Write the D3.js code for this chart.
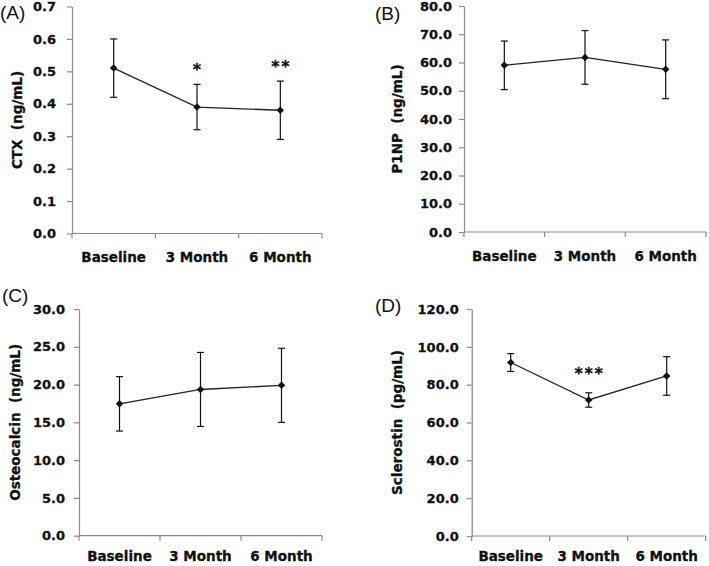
<!DOCTYPE html>
<html>
<head>
<meta charset="utf-8">
<script src="https://cdn.jsdelivr.net/npm/d3@7"></script>
<style>
  html, body { margin: 0; padding: 0; background: #fff; }
  svg { display: block; }
  text { white-space: pre; }
  .bold { stroke: #111; stroke-width: 0.3px; }
</style>
</head>
<body>
<svg id="chart" width="709" height="566"></svg>
<script>
// ---------- data ----------
const categories = ["Baseline", "3 Month", "6 Month"];

const ctxMean = [0.51, 0.39, 0.38];
const ctxErr  = [0.09, 0.07, 0.09];
const ctxStars = ["", "*", "**"];
const ctxTicks = [0.0, 0.1, 0.2, 0.3, 0.4, 0.5, 0.6, 0.7];

const p1npMean = [59.0, 61.8, 57.6];
const p1npErr  = [8.6, 9.5, 10.4];
const p1npStars = ["", "", ""];
const p1npTicks = [0, 10, 20, 30, 40, 50, 60, 70, 80];

const oscMean = [17.45, 19.35, 19.9];
const oscErr  = [3.6, 4.9, 4.9];
const oscStars = ["", "", ""];
const oscTicks = [0, 5, 10, 15, 20, 25, 30];

const sclMean = [91.7, 71.9, 84.6];
const sclErr  = [4.7, 3.8, 10.2];
const sclStars = ["", "***", ""];
const sclTicks = [0, 20, 40, 60, 80, 100, 120];

const panelLetters = ["(A)", "(B)", "(C)", "(D)"];
const yTitles = ["CTX  (ng/mL)", "P1NP  (ng/mL)", "Osteocalcin  (ng/mL)", "Sclerostin  (pg/mL)"];

// ---------- layout (per panel geometry) ----------
const panels = [
  { letter: panelLetters[0], title: yTitles[0], mean: ctxMean, err: ctxErr, stars: ctxStars, ticks: ctxTicks,
    x0: 72, x1: 322, yTop: 6.5, yBot: 233.5, labGap: 16, titleX: 17, letterX: 0, letterY: 12, starDy: -14.5, catDy: 28.5 },
  { letter: panelLetters[1], title: yTitles[1], mean: p1npMean, err: p1npErr, stars: p1npStars, ticks: p1npTicks,
    x0: 464, x1: 706, yTop: 6, yBot: 232, labGap: 12, titleX: 397, letterX: 375, letterY: 13, starDy: -15, catDy: 28.5 },
  { letter: panelLetters[2], title: yTitles[2], mean: oscMean, err: oscErr, stars: oscStars, ticks: oscTicks,
    x0: 79, x1: 322, yTop: 309, yBot: 535.7, labGap: 14, titleX: 15, letterX: 2, letterY: 295, starDy: -15, catDy: 25 },
  { letter: panelLetters[3], title: yTitles[3], mean: sclMean, err: sclErr, stars: sclStars, ticks: sclTicks,
    x0: 471.7, x1: 705.7, yTop: 309, yBot: 536, labGap: 13, titleX: 397, letterX: 375, letterY: 305, starDy: -19.5, catDy: 25 }
];

const svg = d3.select("#chart");
const BOLD = "'DejaVu Sans', Verdana, sans-serif";
const axisColor = "#8a8a8a";

panels.forEach(p => {
  const g = svg.append("g");
  const x = d3.scaleBand().domain(categories).range([p.x0, p.x1]).padding(0);
  const yMax = p.ticks[p.ticks.length - 1];
  const y = d3.scaleLinear().domain([0, yMax]).range([p.yBot, p.yTop]);
  const cx = c => x(c) + x.bandwidth() / 2;

  // y axis
  const tickSize = 5;
  const yAxis = d3.axisLeft(y).tickValues(p.ticks).tickFormat(d3.format(".1f"))
    .tickSize(tickSize).tickSizeOuter(0).tickPadding(p.labGap - tickSize);
  const ya = g.append("g").attr("transform", `translate(${p.x0},0)`).call(yAxis);
  ya.select(".domain").attr("stroke", axisColor).attr("stroke-width", 1.2);
  ya.selectAll(".tick line").attr("stroke", axisColor).attr("stroke-width", 1.2);
  ya.selectAll(".tick text").attr("class", "bold").attr("fill", "#111").attr("font-family", BOLD)
    .attr("font-weight", "bold").attr("font-size", "13px");

  // x axis line and boundary ticks
  g.append("line").attr("x1", p.x0).attr("x2", p.x1).attr("y1", y(0)).attr("y2", y(0))
    .attr("stroke", axisColor).attr("stroke-width", 1.2);
  const edges = d3.range(categories.length + 1).map(i => p.x0 + i * x.step());
  g.selectAll(".xt").data(edges).join("line")
    .attr("x1", d => d).attr("x2", d => d).attr("y1", y(0)).attr("y2", y(0) + 5)
    .attr("stroke", axisColor).attr("stroke-width", 1.2);
  g.selectAll(".xl").data(categories).join("text")
    .attr("class", "bold")
    .attr("x", d => cx(d)).attr("y", y(0) + p.catDy)
    .attr("text-anchor", "middle").attr("font-family", BOLD).attr("font-weight", "bold")
    .attr("font-size", "13.5px").attr("fill", "#111").text(d => d);

  // y title
  g.append("text").attr("class", "bold")
    .attr("transform", `translate(${p.titleX},${(p.yTop + p.yBot) / 2}) rotate(-90)`)
    .attr("text-anchor", "middle").attr("dominant-baseline", "central")
    .attr("font-family", BOLD).attr("font-weight", "bold").attr("font-size", "13.5px")
    .attr("fill", "#111").text(p.title);

  // panel letter
  g.append("text").attr("x", p.letterX).attr("y", p.letterY)
    .attr("dominant-baseline", "central")
    .attr("font-family", "'Liberation Sans', Arial, sans-serif").attr("font-size", "19px")
    .attr("fill", "#111").text(p.letter);

  const pts = categories.map((c, i) => ({ c, m: p.mean[i], e: p.err[i], s: p.stars[i] }));

  // error bars
  pts.forEach(d => {
    const xx = cx(d.c);
    g.append("line").attr("x1", xx).attr("x2", xx).attr("y1", y(d.m - d.e)).attr("y2", y(d.m + d.e))
      .attr("stroke", "#111").attr("stroke-width", 1.2);
    [d.m - d.e, d.m + d.e].forEach(v => {
      g.append("line").attr("x1", xx - 3.5).attr("x2", xx + 3.5).attr("y1", y(v)).attr("y2", y(v))
        .attr("stroke", "#111").attr("stroke-width", 1.2);
    });
  });

  // line
  g.append("path").datum(pts)
    .attr("d", d3.line().x(d => cx(d.c)).y(d => y(d.m)))
    .attr("fill", "none").attr("stroke", "#222").attr("stroke-width", 1.3);

  // markers
  g.selectAll(".mk").data(pts).join("path")
    .attr("d", d3.symbol().type(d3.symbolSquare).size(28))
    .attr("transform", d => `translate(${cx(d.c)},${y(d.m)}) rotate(45)`)
    .attr("fill", "#111");

  // significance stars
  pts.forEach(d => {
    const n = d.s.length;
    for (let k = 0; k < n; k++) {
      g.append("text").attr("class", "bold")
        .attr("x", cx(d.c) + (k - (n - 1) / 2) * 10)
        .attr("y", y(d.m + d.e) + p.starDy)
        .attr("text-anchor", "middle").attr("dominant-baseline", "central")
        .attr("font-family", BOLD).attr("font-weight", "bold").attr("font-size", "16px")
        .attr("fill", "#111").text("*");
    }
  });
});
</script>
</body>
</html>
